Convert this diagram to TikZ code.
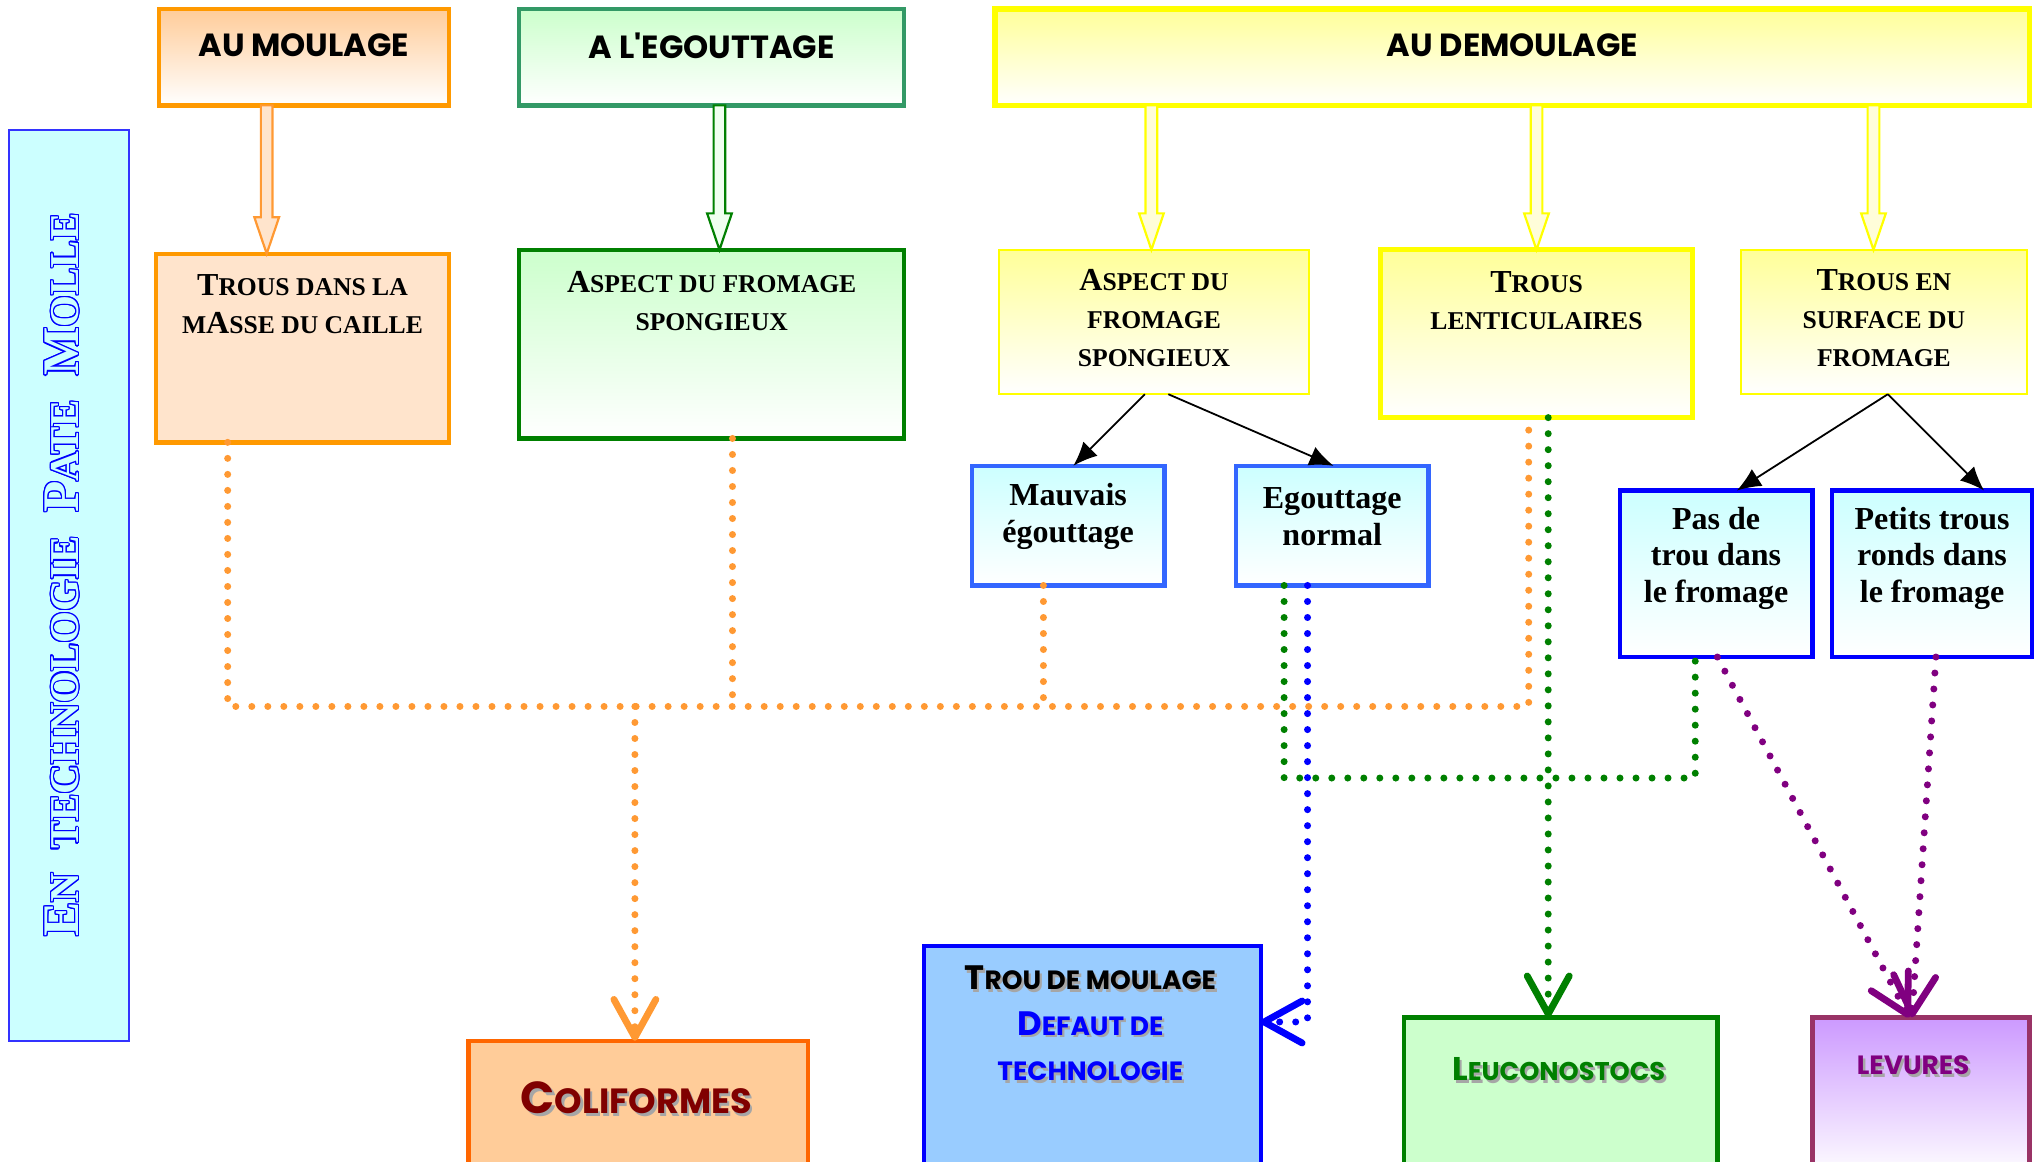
\documentclass[tikz,border=0pt]{standalone}
\usepackage{fontspec}
\setmainfont{Liberation Serif}
\newfontfamily\comicf{Poppins}
\usepackage{graphicx}
\usepackage[copies]{contour}
\usetikzlibrary{arrows.meta,calc,fit}

\definecolor{cOrange}{HTML}{FF9900}
\definecolor{cApricot}{HTML}{FFCC99}
\definecolor{cPeach}{HTML}{FFE4CC}
\definecolor{cSea}{HTML}{339966}
\definecolor{cMint}{HTML}{CCFFCC}
\definecolor{cGreen}{HTML}{008000}
\definecolor{cYellow}{HTML}{FFFF00}
\definecolor{cCream}{HTML}{FFFF99}
\definecolor{cRoyal}{HTML}{3366FF}
\definecolor{cCyan}{HTML}{CCFFFF}
\definecolor{cBlue}{HTML}{0000FF}
\definecolor{cRust}{HTML}{FF6600}
\definecolor{cSky}{HTML}{99CCFF}
\definecolor{cPlum}{HTML}{993366}
\definecolor{cLilac}{HTML}{CC99FF}
\definecolor{cMaroon}{HTML}{800000}
\definecolor{cPurple}{HTML}{800080}
\definecolor{cDotOrange}{HTML}{FF9933}
\definecolor{cBandLine}{HTML}{3333FF}

% enlarged initial for hand-made small capitals
\newcommand\BigL[1]{\scalebox{1.25}{#1}}
\newcommand\BigC[1]{\scalebox{1.28}{#1}}
% text with a soft drop shadow
\newcommand\shd[1]{\leavevmode\rlap{\kern1.2pt\raisebox{-1.2pt}{\color{black!35}#1}}#1}
% wide outlined arrow pointing down from #1 to #2
\newcommand\hollowarrow[4]{%
  \filldraw[draw=#3, fill=#4, line width=1.1pt, line join=miter]
    ($(#1)+(-4.5,0)$) -- ($(#2)+(-4.5,-28)$) -- ($(#2)+(-9.5,-28)$) -- (#2)
    -- ($(#2)+(9.5,-28)$) -- ($(#2)+(4.5,-28)$) -- ($(#1)+(4.5,0)$) -- cycle;}
\contourlength{0.6pt}

\begin{document}
\begin{tikzpicture}[x=0.65pt,y=-0.65pt,
  box/.style={rectangle, inner sep=0pt, outer sep=0pt},
  thickbox/.style={box, line width=2.2pt},
  thinbox/.style={box, line width=1.1pt},
  serifcaps/.style={font=\bfseries\fontsize{12.8}{18.85}\selectfont, align=center, inner sep=0pt},
  seriflow/.style={font=\bfseries\fontsize{16}{18.2}\selectfont, align=center, inner sep=0pt},
  header/.style={font=\comicf\bfseries\fontsize{16}{18}\selectfont, inner sep=0pt},
  comic/.style={font=\comicf\bfseries\fontsize{12.8}{22.75}\selectfont, align=center, inner sep=0pt},
  pointer/.style={draw=black, line width=0.9pt, -{Latex[length=12pt,width=10pt]}},
  dots/.style={line width=3.5pt, line cap=round, dash pattern=on 0pt off 8pt},
  vhead/.style={-{Straight Barb[length=19pt,width=21pt,line width=3.4pt,round]}},
]
\useasboundingbox (0,0) rectangle (1568,893);
\clip (0,0) rectangle (1568,893);

% ---------- stage headers ----------
\node[thickbox, fit={(122,7) (345,81)}, draw=cOrange, top color=cApricot, bottom color=white] (moul) {};
\node[thickbox, fit={(399,7) (695,81)}, draw=cSea, top color=cMint, bottom color=white] (egout) {};
\node[thickbox, line width=2.8pt, fit={(765,7) (1560,81)}, draw=cYellow, top color=cCream, bottom color=white] (demoul) {};
\node[header] (moul-t) at ($(moul.north)+(0,28)$) {AU MOULAGE};
\node[header] (egout-t) at ($(egout.north)+(0,28)$) {A L'EGOUTTAGE};
\node[header] (demoul-t) at ($(demoul.north)+(0,28)$) {AU DEMOULAGE};

% ---------- side band ----------
\node[box, fit={(7,100) (99,800)}, draw=cBandLine, line width=0.7pt, fill=cCyan] (band) {};
\node[rotate=90, inner sep=0pt, font=\bfseries\fontsize{20.5}{24}\selectfont] (band-t)
  at ($(band.center)+(-5,-8)$)
  {\color{cCyan}\contour{cBlue}{\BigL{E}N\hspace{12pt}TECHNOLOGIE\hspace{12pt}\BigL{P}ATE\hspace{12pt}\BigL{M}OLLE}};

% ---------- observations ----------
\node[thickbox, fit={(120,195) (345,340)}, draw=cOrange, fill=cPeach] (trousm) {};
\node[thickbox, fit={(399,192) (695,337)}, draw=cGreen, top color=cMint, bottom color=white] (aspg) {};
\node[thinbox, fit={(768,192) (1006,303)}, draw=cYellow, top color=cCream, bottom color=white] (aspy) {};
\node[thickbox, line width=2.6pt, fit={(1061,192) (1301,321)}, draw=cYellow, top color=cCream, bottom color=white] (lent) {};
\node[thinbox, fit={(1338,192) (1558,303)}, draw=cYellow, top color=cCream, bottom color=white] (surf) {};

\node[serifcaps] (trousm-t) at ($(trousm.north)+(0,38.5)$) {\BigL{T}ROUS DANS LA\\M\BigL{A}SSE DU CAILLE};
\node[serifcaps] (aspg-t) at ($(aspg.north)+(0,39.5)$) {\BigL{A}SPECT DU FROMAGE\\SPONGIEUX};
\node[serifcaps] (aspy-t) at ($(aspy.north)+(0,52.5)$) {\BigL{A}SPECT DU\\FROMAGE\\SPONGIEUX};
\node[serifcaps] (lent-t) at ($(lent.north)+(0,39)$) {\BigL{T}ROUS\\LENTICULAIRES};
\node[serifcaps] (surf-t) at ($(surf.north)+(0,52.5)$) {\BigL{T}ROUS EN\\SURFACE DU\\FROMAGE};

\node[thickbox, fit={(747,358) (895,450)}, draw=cRoyal, top color=cCyan, bottom color=white] (mauv) {};
\node[thickbox, fit={(950,358) (1098,450)}, draw=cRoyal, top color=cCyan, bottom color=white] (egn) {};
\node[thickbox, fit={(1245,377) (1393,505)}, draw=cBlue, top color=cCyan, bottom color=white] (pas) {};
\node[thickbox, fit={(1408,377) (1562,505)}, draw=cBlue, top color=cCyan, bottom color=white] (pet) {};
\node[seriflow] (mauv-t) at ($(mauv.north)+(0,39)$) {Mauvais\\égouttage};
\node[seriflow] (egn-t) at ($(egn.north)+(0,39)$) {Egouttage\\normal};
\node[seriflow] (pas-t) at ($(pas.north)+(0,52)$) {Pas de\\trou dans\\le fromage};
\node[seriflow] (pet-t) at ($(pet.north)+(0,52)$) {Petits trous\\ronds dans\\le fromage};

% ---------- causes ----------
\node[thickbox, fit={(360,800) (621,905)}, draw=cRust, fill=cApricot] (coli) {};
\node[thickbox, fit={(710,727) (969,905)}, draw=cBlue, fill=cSky] (trou) {};
\node[thickbox, fit={(1079,782) (1320,905)}, draw=cGreen, fill=cMint] (leuc) {};
\node[thickbox, fit={(1393,782) (1560,905)}, draw=cPlum, top color=cLilac, bottom color=white] (lev) {};

\node[comic, font=\comicf\bfseries\fontsize{17.5}{20}\selectfont, text=cMaroon] (coli-t)
  at ($(coli.north)+(-1.5,45)$) {\shd{\BigC{C}OLIFORMES}};
\node[comic, font=\comicf\bfseries\fontsize{13.2}{22.75}\selectfont] (trou-t) at ($(trou.north)+(-1.5,60.5)$)
  {\shd{\BigC{T}ROU DE MOULAGE}\\{\color{cBlue}\shd{\BigC{D}EFAUT DE}}\\{\color{cBlue}\shd{TECHNOLOGIE}}};
\node[comic, font=\comicf\bfseries\fontsize{12.8}{16}\selectfont, text=cGreen] (leuc-t)
  at ($(leuc.north)+(-1.5,41)$) {\shd{\BigC{L}EUCONOSTOCS}};
\node[comic, font=\comicf\bfseries\fontsize{13.2}{16}\selectfont, text=cPurple] (lev-t)
  at ($(lev.north)+(-6,38)$) {\shd{LEVURES}};

% ---------- wide arrows from the stages ----------
\coordinate (h1s) at ($(moul.south)+(-28.5,0)$);   \coordinate (h1t) at (h1s |- trousm.north);
\coordinate (h2s) at ($(egout.south)+(6,0)$);      \coordinate (h2t) at (h2s |- aspg.north);
\coordinate (h3s) at ($(demoul.south)+(-277.5,0)$); \coordinate (h3t) at (h3s |- aspy.north);
\coordinate (h4s) at ($(demoul.south)+(18.5,0)$);  \coordinate (h4t) at (h4s |- lent.north);
\coordinate (h5s) at ($(demoul.south)+(277.5,0)$); \coordinate (h5t) at (h5s |- surf.north);
\hollowarrow{h1s}{h1t}{cDotOrange}{cPeach}
\hollowarrow{h2s}{h2t}{cGreen}{green!6}
\hollowarrow{h3s}{h3t}{cYellow}{yellow!15}
\hollowarrow{h4s}{h4t}{cYellow}{yellow!15}
\hollowarrow{h5s}{h5t}{cYellow}{yellow!15}

% ---------- plain arrows ----------
\draw[pointer] ($(aspy.south)+(-7,0)$) -- ($(mauv.north)+(4,0)$);
\draw[pointer] ($(aspy.south)+(11,0)$) -- ($(egn.north)+(1,0)$);
\draw[pointer] ($(surf.south)+(3,0)$) -- ($(pas.north)+(16,0)$);
\draw[pointer] ($(surf.south)+(3,0)$) -- ($(pet.north)+(40,0)$);

% ---------- dotted links to the causes ----------
\coordinate (jO) at (488,543);
\coordinate (o1) at ($(trousm.south)+(-57.5,0)$);
\coordinate (o2) at ($(aspg.south)+(16,0)$);
\coordinate (o3) at ($(mauv.south)+(-19,0)$);
\coordinate (o4) at ($(lent.south)+(-6,0)$);
\draw[dots, draw=cDotOrange] (o1) -- (o1 |- jO) -- (o4 |- jO) -- (o4);
\draw[dots, draw=cDotOrange] (o2) -- (o2 |- jO);
\draw[dots, draw=cDotOrange] (o3) -- (o3 |- jO);
\draw[dots, vhead, draw=cDotOrange] (jO) -- (jO |- coli.north);

\coordinate (g1) at ($(lent.south)+(9,0)$);
\draw[dots, vhead, draw=cGreen] (g1) -- (g1 |- leuc.north);
\coordinate (jG) at (1100,598);
\coordinate (g2) at ($(egn.south)+(-37,0)$);
\coordinate (g3) at ($(pas.south)+(-16,0)$);
\draw[dots, draw=cGreen] (g2) -- (g2 |- jG) -- (g3 |- jG) -- (g3);

\coordinate (b1) at ($(egn.south)+(-19,0)$);
\coordinate (b2) at ($(trou.east)+(0,-30.5)$);
\draw[dots, vhead, draw=cBlue] (b1) |- (b2);

\draw[dots, vhead, draw=cPurple] ($(pas.south)+(1,0)$) -- ($(lev.north)+(-9,0)$);
\draw[dots, vhead, draw=cPurple] ($(pet.south)+(3,0)$) -- ($(lev.north)+(-7,0)$);
\end{tikzpicture}
\end{document}
